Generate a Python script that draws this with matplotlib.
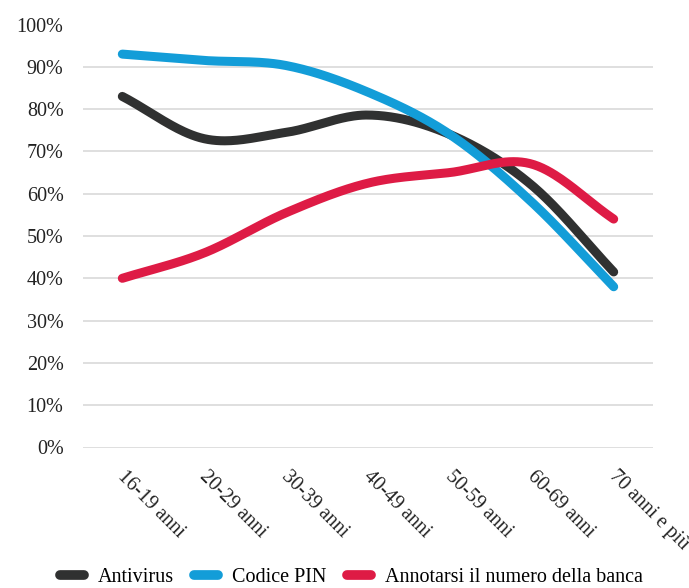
import numpy as np
import matplotlib
matplotlib.use("Agg")
import matplotlib.pyplot as plt
from matplotlib.lines import Line2D
from matplotlib.transforms import ScaledTranslation

categories = ["16-19 anni", "20-29 anni", "30-39 anni", "40-49 anni",
              "50-59 anni", "60-69 anni", "70 anni e più"]
antivirus = [83, 73, 74.5, 78.6, 74, 62, 41.5]
codice_pin = [93, 91.5, 90.3, 84, 74, 58, 38]
annotarsi = [40, 46, 55.5, 62.5, 65, 67, 54]
series_names = ["Antivirus", "Codice PIN", "Annotarsi il numero della banca"]
colors = ["#303131", "#139dd8", "#de1b45"]
yticks = [0, 10, 20, 30, 40, 50, 60, 70, 80, 90, 100]

plt.rcParams['font.family'] = ['Liberation Serif', 'DejaVu Serif']


def catmull_rom(y, n=40):
    y = np.asarray(y, dtype=float)
    m = np.zeros_like(y)
    m[1:-1] = (y[2:] - y[:-2]) / 2.0
    m[0] = y[1] - y[0]
    m[-1] = y[-1] - y[-2]
    xs, ys = [], []
    for i in range(len(y) - 1):
        t = np.linspace(0, 1, n, endpoint=(i == len(y) - 2))
        h00 = 2 * t**3 - 3 * t**2 + 1
        h10 = t**3 - 2 * t**2 + t
        h01 = -2 * t**3 + 3 * t**2
        h11 = t**3 - t**2
        xs.append(i + t)
        ys.append(h00 * y[i] + h10 * m[i] + h01 * y[i + 1] + h11 * m[i + 1])
    return np.concatenate(xs), np.concatenate(ys)


fig = plt.figure(figsize=(6.89, 5.88), dpi=100)
ax = fig.add_axes([83 / 689, 1 - 447.5 / 588, (653 - 83) / 689, (447.5 - 24.5) / 588])

for vals, col in zip([antivirus, codice_pin, annotarsi], colors):
    xs, ys = catmull_rom(vals)
    ax.plot(xs, ys, color=col, lw=6.5, solid_capstyle='round', zorder=3)

fs = 14.5
ax.set_xlim(-0.48, len(categories) - 1 + 0.48)
ax.set_ylim(0, 100)
ax.set_yticks(yticks)
ax.set_yticklabels([f"{v}%" for v in yticks], fontsize=fs, color="#222222")
ax.set_xticks(range(len(categories)))
ax.set_xticklabels(categories, rotation=-45, ha='left', va='top',
                   rotation_mode='anchor', fontsize=fs, color="#222222")
ax.tick_params(axis='both', length=0)
ax.tick_params(axis='y', pad=14)
ax.tick_params(axis='x', pad=14)
off = ScaledTranslation(5 / 100, 0, fig.dpi_scale_trans)
for lab in ax.get_xticklabels():
    lab.set_transform(lab.get_transform() + off)
ax.grid(axis='y', color='#d9d9d9', lw=1.2, zorder=0)
ax.set_axisbelow(True)
for s in ax.spines.values():
    s.set_visible(False)

handles = [Line2D([0], [0], color=c, lw=7, solid_capstyle='round') for c in colors]
fig.legend(handles, series_names, loc='center', bbox_to_anchor=(0.51, 1 - 577 / 588),
           ncol=3, frameon=False, fontsize=fs, handlelength=1.2, handletextpad=0.7,
           columnspacing=1.0, borderaxespad=0)

fig.savefig("out.png", dpi=100)
